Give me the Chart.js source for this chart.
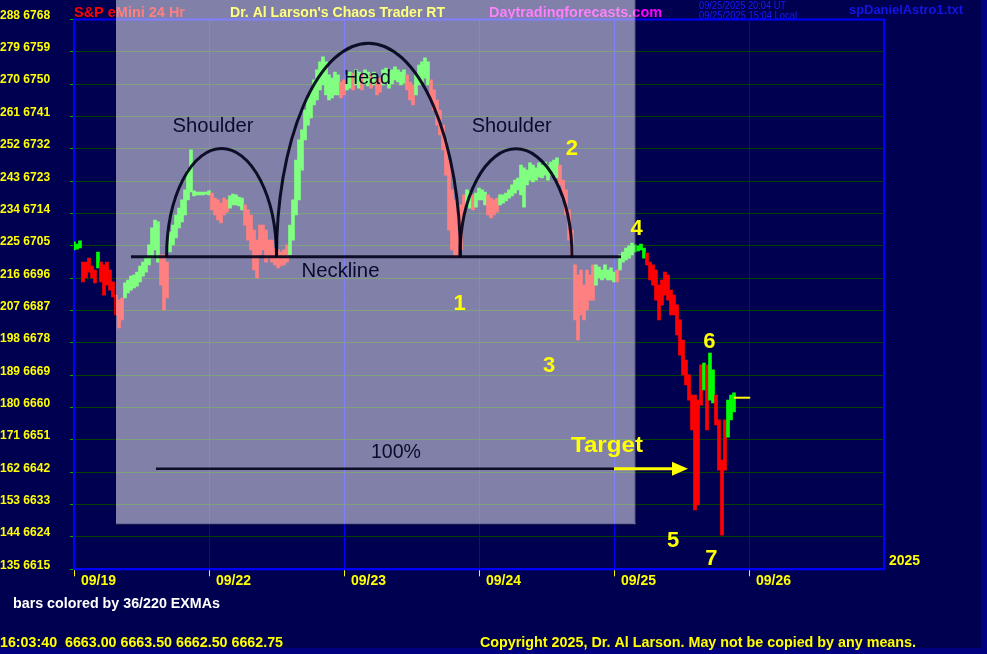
<!DOCTYPE html>
<html><head><meta charset="utf-8">
<script src="https://cdn.jsdelivr.net/npm/chart.js@4.4.0/dist/chart.umd.min.js"></script>
<style>html,body{margin:0;padding:0;background:#000080;overflow:hidden}canvas{display:block}</style>
</head><body>
<canvas id="c" width="987" height="654"></canvas>
<script>
// ---------- data ----------
const dayLabels = ['09/19','09/22','09/23','09/24','09/25','09/26'];
const yTicks = [6615,6624,6633,6642,6651,6660,6669,6678,6687,6696,6705,6714,6723,6732,6741,6750,6759,6768];
const yTickCounts = [135,144,153,162,171,180,189,198,207,216,225,234,243,252,261,270,279,288];
const barsPerDay = 45;
const barHighs = [
6706.1,6705.5,6706.4,6700.5,6700.5,6701.6,6699.4,6698.3,6703.3,6700.5,
6699.7,6700.5,6698.3,6695.0,6691.3,6689.9,6690.5,6694.7,6695.5,6696.6,
6696.9,6697.7,6699.4,6700.5,6701.9,6705.3,6710.0,6712.2,6711.7,6702.5,
6702.5,6700.5,6708.9,6710.8,6713.6,6715.5,6717.8,6720.6,6726.1,6731.7,
6720.3,6720.0,6720.0,6720.0,6720.0,6720.3,6719.7,6718.3,6717.8,6716.9,
6718.3,6717.8,6718.9,6719.4,6719.2,6718.6,6718.3,6716.4,6715.0,6713.6,
6709.4,6706.6,6710.8,6710.8,6709.4,6706.6,6706.6,6704.4,6703.9,6703.3,
6703.9,6705.3,6710.8,6717.8,6728.9,6734.5,6737.3,6742.8,6746.2,6748.4,
6751.2,6754.0,6756.2,6757.6,6756.2,6752.6,6751.7,6753.4,6752.6,6750.6,
6751.2,6752.6,6753.4,6753.1,6754.0,6753.4,6752.8,6754.0,6753.4,6752.8,
6753.4,6751.2,6751.7,6754.0,6754.5,6753.4,6754.0,6754.8,6754.0,6753.4,
6754.0,6752.6,6750.6,6749.8,6752.6,6755.3,6756.2,6757.3,6756.2,6751.2,
6748.4,6745.6,6742.8,6738.6,6734.5,6728.9,6720.6,6717.8,6713.6,6716.4,
6719.2,6720.6,6720.0,6719.2,6719.7,6721.1,6720.6,6720.0,6719.2,6718.3,
6717.8,6718.3,6719.2,6719.2,6719.7,6720.6,6722.0,6723.3,6723.9,6727.5,
6726.7,6726.1,6728.1,6727.5,6726.7,6728.1,6727.5,6728.3,6727.5,6728.3,
6728.9,6729.5,6727.5,6723.3,6720.6,6715.0,6709.4,6699.7,6696.9,6698.3,
6694.1,6698.3,6696.9,6699.7,6699.7,6699.1,6698.3,6699.7,6698.3,6698.9,
6697.7,6698.3,6702.5,6703.3,6704.4,6705.0,6705.8,6705.3,6705.0,6705.5,
6704.4,6703.0,6700.5,6699.7,6698.3,6694.1,6695.5,6697.7,6696.9,6692.7,
6691.3,6688.6,6684.4,6678.8,6673.2,6669.1,6663.5,6663.5,6662.1,6671.9,
6672.4,6671.9,6675.2,6670.5,6663.5,6656.6,6645.4,6656.6,6662.1,6663.5,
6664.1];
const barLows = [
6703.9,6704.1,6704.4,6695.0,6696.1,6697.7,6696.1,6694.7,6698.9,6695.0,
6691.3,6694.1,6692.7,6690.8,6685.8,6682.2,6684.4,6690.5,6691.9,6692.7,
6693.3,6693.8,6695.0,6696.6,6697.7,6699.7,6701.6,6703.9,6700.5,6694.1,
6687.2,6690.5,6703.3,6705.3,6707.2,6710.0,6711.7,6713.6,6717.8,6720.0,
6718.9,6719.2,6719.2,6719.2,6719.4,6719.2,6715.0,6713.6,6712.2,6711.4,
6713.6,6714.4,6715.5,6716.4,6716.4,6716.1,6715.0,6710.8,6706.6,6703.9,
6698.3,6696.1,6702.5,6703.9,6700.5,6701.6,6700.5,6699.7,6698.9,6699.4,
6699.7,6700.5,6702.5,6706.6,6713.6,6717.8,6726.1,6734.5,6738.6,6740.6,
6744.2,6745.6,6748.4,6749.8,6747.0,6745.6,6746.2,6747.0,6747.0,6746.2,
6747.0,6748.4,6748.9,6748.4,6749.8,6748.9,6748.4,6750.1,6749.5,6748.9,
6749.8,6747.0,6747.8,6749.8,6750.6,6748.9,6750.1,6751.2,6750.6,6749.8,
6750.3,6748.4,6745.6,6744.2,6747.0,6749.8,6750.6,6751.7,6749.8,6745.6,
6742.8,6738.6,6735.9,6731.7,6724.7,6709.4,6703.9,6701.9,6701.9,6703.9,
6713.6,6716.4,6715.5,6715.0,6715.8,6717.8,6717.8,6716.4,6713.6,6712.8,
6713.6,6714.4,6716.4,6716.9,6717.5,6718.3,6718.9,6719.7,6720.6,6719.2,
6715.8,6722.0,6723.3,6722.8,6723.3,6724.2,6723.9,6724.7,6723.3,6724.7,
6724.7,6723.9,6722.0,6717.8,6713.6,6706.6,6701.9,6684.4,6678.8,6685.8,
6684.4,6687.2,6689.9,6689.9,6694.1,6696.1,6695.5,6696.1,6695.5,6695.5,
6695.0,6695.0,6698.3,6700.5,6701.1,6701.6,6702.5,6703.3,6703.6,6703.9,
6701.6,6699.7,6695.5,6694.1,6689.9,6684.4,6688.6,6691.3,6689.9,6685.8,
6685.8,6680.2,6674.6,6669.1,6666.3,6662.1,6653.8,6631.5,6632.9,6660.7,
6664.9,6653.8,6662.1,6661.3,6655.2,6642.6,6624.5,6642.6,6651.8,6656.6,
6658.8];
// trend colouring by 36/220 EXMAs: g = up, r = down
const barTrend = ('ggg'+'rrrrr'+'g'+'rrrrrrrr'+'gggggggggggg'+'rrr'+'gggggggggggggg'+'rrrrrr'+'ggggg'+
 'rrrrrrrrrrrrrrr'+'ggggggggggggggggg'+'rr'+'gg'+'r'+'gg'+'r'+'gg'+'r'+'g'+'rr'+'gggggggg'+'rrr'+'ggggg'+
 'rrrrrrrrrrrr'+'gg'+'r'+'gggg'+'rrrr'+'gggggggggggggggggggg'+'rrrrrrrrrrrr'+'ggggggg'+'r'+'ggggggggg'+
 'rrrrrrrrrrrrrrrrrrr'+'g'+'r'+'gg'+'rrrr'+'ggg').split('');
const quoteTime = '16:03:40';
const quoteOHLC = [6663.00, 6663.50, 6662.50, 6662.75];

// ---------- annotations (data units) ----------
const shadeBox = {x0:0.311, x1:4.152, yTop:6773.5, yBot:6627.8};
const necklineLevel = 6702, necklineFrom = 0.422, necklineTo = 4.052;
const targetLevel = 6643, targetFrom = 0.607, targetTo = 4.0, arrowTo = 4.548;
const arcCenters = [1.093, 2.181, 3.274];
const arcHalfWidths = [0.407, 0.681, 0.415];
const arcTops = [6732.1, 6761.4, 6732.0];
const noteTexts = ['Shoulder','Head','Shoulder','Neckline','100%'];
const noteX = [1.030, 2.174, 3.242, 1.974, 2.385];
const noteY = [6736.8, 6750.0, 6736.6, 6696.4, 6646.0];
const noteW = [81, 47, 80, 78, 50];
const countTexts = ['1','2','3','4','5','6','7'];
const countX = [2.856, 3.687, 3.519, 4.167, 4.437, 4.707, 4.722];
const countY = [6687.2, 6730.3, 6669.9, 6708.0, 6621.2, 6676.6, 6616.2];

const FF = "'Liberation Sans', Arial, sans-serif";

function drawText(ctx, s, x, y, font, color, align, width){
  ctx.save(); ctx.font = font; ctx.fillStyle = color;
  ctx.textBaseline = 'alphabetic'; ctx.textAlign = align || 'left';
  const m = ctx.measureText(s).width; const k = width ? width / m : 1;
  ctx.translate(x, y); ctx.scale(k, 1); ctx.fillText(s, 0, 0); ctx.restore();
}

const deco = {
  id: 'deco',
  beforeDraw(chart){
    const c = chart.ctx;
    c.save();
    c.fillStyle = '#000080'; c.fillRect(0, 0, chart.width, chart.height);
    c.fillStyle = '#000050'; c.fillRect(0, 0, chart.width - 6, chart.height - 6);
    c.restore();
    drawText(c, 'S&P eMini 24 Hr', 74, 17, 'bold 14px ' + FF, '#ff0000', 'left', 111);
    drawText(c, "Dr. Al Larson's Chaos Trader RT", 230, 17, 'bold 14px ' + FF, '#ffff00', 'left', 215);
    drawText(c, 'Daytradingforecasts.com', 489, 17, 'bold 14px ' + FF, '#ff00ff', 'left', 173);
    drawText(c, '09/25/2025 20:04 UT', 699, 9, '10px ' + FF, '#1a1aff', 'left', 87);
    drawText(c, '09/25/2025 15:04 Local', 699, 19, '10px ' + FF, '#1a1aff', 'left', 98);
    drawText(c, 'spDanielAstro1.txt', 849, 14, 'bold 13px ' + FF, '#1414e6', 'left', 114);
    drawText(c, 'bars colored by 36/220 EXMAs', 13, 608, 'bold 14px ' + FF, '#ffffff', 'left', 207);
    drawText(c, quoteTime + '  ' + quoteOHLC.map(v => v.toFixed(2)).join(' '), 0, 647, 'bold 14px ' + FF, '#ffff00', 'left', 283);
    drawText(c, 'Copyright 2025, Dr. Al Larson. May not be copied by any means.', 480, 647, 'bold 14px ' + FF, '#ffff00', 'left', 436);
    drawText(c, '2025', 889, 565, 'bold 14px ' + FF, '#ffff00', 'left', 31);
  },
  beforeDatasetsDraw(chart){
    const c = chart.ctx, a = chart.chartArea;
    c.save(); c.strokeStyle = '#0000ff'; c.lineWidth = 2;
    c.strokeRect(a.left, a.top, a.right - a.left, a.bottom - a.top);
    c.restore();
  },
  afterDatasetsDraw(chart){
    const c = chart.ctx, xs = chart.scales.x, ys = chart.scales.y;
    const X = v => xs.getPixelForValue(v), Y = v => ys.getPixelForValue(v);
    // current price marker
    const last = barHighs.length - 1;
    c.save(); c.strokeStyle = '#ffff00'; c.lineWidth = 2;
    c.beginPath(); c.moveTo(X(last / barsPerDay), Y(quoteOHLC[3])); c.lineTo(X(last / barsPerDay + 0.12), Y(quoteOHLC[3])); c.stroke();
    // shaded box
    const bx0 = X(shadeBox.x0), bx1 = X(shadeBox.x1), by0 = Math.max(0, Y(shadeBox.yTop)), by1 = Y(shadeBox.yBot);
    c.fillStyle = 'rgba(255,255,255,0.5)';
    c.fillRect(bx0, by0, bx1 - bx0, by1 - by0);
    c.fillStyle = 'rgba(0,0,40,0.35)';
    c.fillRect(bx0 - 1, by0, 1, by1 - by0);
    c.fillStyle = 'rgba(200,200,230,0.6)';
    c.fillRect(bx1, by0, 1, by1 - by0 + 1); c.fillRect(bx0, by1, bx1 - bx0 + 1, 1);
    c.fillStyle = 'rgba(0,0,30,0.5)';
    c.fillRect(bx1 + 1, by0, 1, by1 - by0 + 2); c.fillRect(bx0, by1 + 1, bx1 - bx0 + 2, 1);
    // arcs
    const ink = 'rgba(0,0,24,0.9)';
    c.strokeStyle = ink; c.lineWidth = 3;
    arcCenters.forEach((cx, i) => {
      const px = X(cx), rx = X(cx + arcHalfWidths[i]) - px, base = Y(necklineLevel), ry = base - Y(arcTops[i]);
      c.beginPath(); c.ellipse(px, base, rx, ry, 0, Math.PI, 2 * Math.PI); c.stroke();
    });
    // neckline
    c.beginPath(); c.moveTo(X(necklineFrom), Y(necklineLevel)); c.lineTo(X(necklineTo), Y(necklineLevel)); c.stroke();
    // 100% line
    c.lineWidth = 2.5;
    c.beginPath(); c.moveTo(X(targetFrom), Y(targetLevel)); c.lineTo(X(targetTo), Y(targetLevel)); c.stroke();
    // target arrow
    const ay = Y(targetLevel), ax1 = X(arrowTo);
    c.strokeStyle = '#ffff00'; c.fillStyle = '#ffff00'; c.lineWidth = 3;
    c.beginPath(); c.moveTo(X(targetTo), ay); c.lineTo(ax1 - 14, ay); c.stroke();
    c.beginPath(); c.moveTo(ax1 - 16, ay - 7); c.lineTo(ax1, ay); c.lineTo(ax1 - 16, ay + 7); c.closePath(); c.fill();
    c.restore();
    // notes
    noteTexts.forEach((t, i) => drawText(c, t, X(noteX[i]), Y(noteY[i]), '20px ' + FF, '#0a0a2a', 'center', noteW[i]));
    drawText(c, 'Target', X(3.948), Y(6647.6), 'bold 22px ' + FF, '#ffff00', 'center', 72);
    countTexts.forEach((t, i) => drawText(c, t, X(countX[i]), Y(countY[i]), 'bold 22px ' + FF, '#ffff00', 'center'));
  }
};

const pts = barHighs.map((h, i) => ({x: i / barsPerDay, y: [barLows[i], h]}));
const cols = barTrend.map(t => t === 'g' ? '#00ff00' : '#ff0000');

new Chart(document.getElementById('c'), {
  type: 'bar',
  data: { datasets: [{ data: pts, backgroundColor: cols, borderWidth: 0, barThickness: 3, grouped: false }] },
  options: {
    responsive: false, animation: false, events: [],
    layout: { padding: { top: 19.5, right: 103, left: 0, bottom: 0 } },
    plugins: { legend: { display: false }, tooltip: { enabled: false } },
    scales: {
      x: {
        type: 'linear', min: 0, max: 6, offset: false,
        grid: { offset: false, color: '#0000ff', lineWidth: 1, tickColor: '#ffff00', tickLength: 7 },
        border: { color: '#0000ff', width: 2 },
        ticks: { align: 'start', labelOffset: 7, padding: -4, color: '#ffff00', autoSkip: false, maxRotation: 0,
          font: { family: FF, size: 14, weight: 'bold' }, callback: v => dayLabels[v] ?? '' },
        afterBuildTicks: s => { s.ticks = dayLabels.map((_, i) => ({ value: i })); },
        afterFit: s => { s.height = 84.7; }
      },
      y: {
        type: 'linear', min: 6615, max: 6768, beginAtZero: false,
        grid: { color: 'rgb(0,64,0)', tickColor: '#00b000', tickLength: 4 },
        border: { color: '#0000ff', width: 2 },
        ticks: { crossAlign: 'far', labelOffset: -4, color: '#ffff00', autoSkip: false,
          font: { family: FF, size: 12, weight: 'bold' },
          callback: v => { const i = yTicks.indexOf(v); return i < 0 ? '' : yTickCounts[i] + ' ' + v; } },
        afterBuildTicks: s => { s.ticks = yTicks.map(v => ({ value: v })); },
        afterFit: s => { s.width = 74; }
      }
    }
  },
  plugins: [deco]
});
</script>
</body></html>
